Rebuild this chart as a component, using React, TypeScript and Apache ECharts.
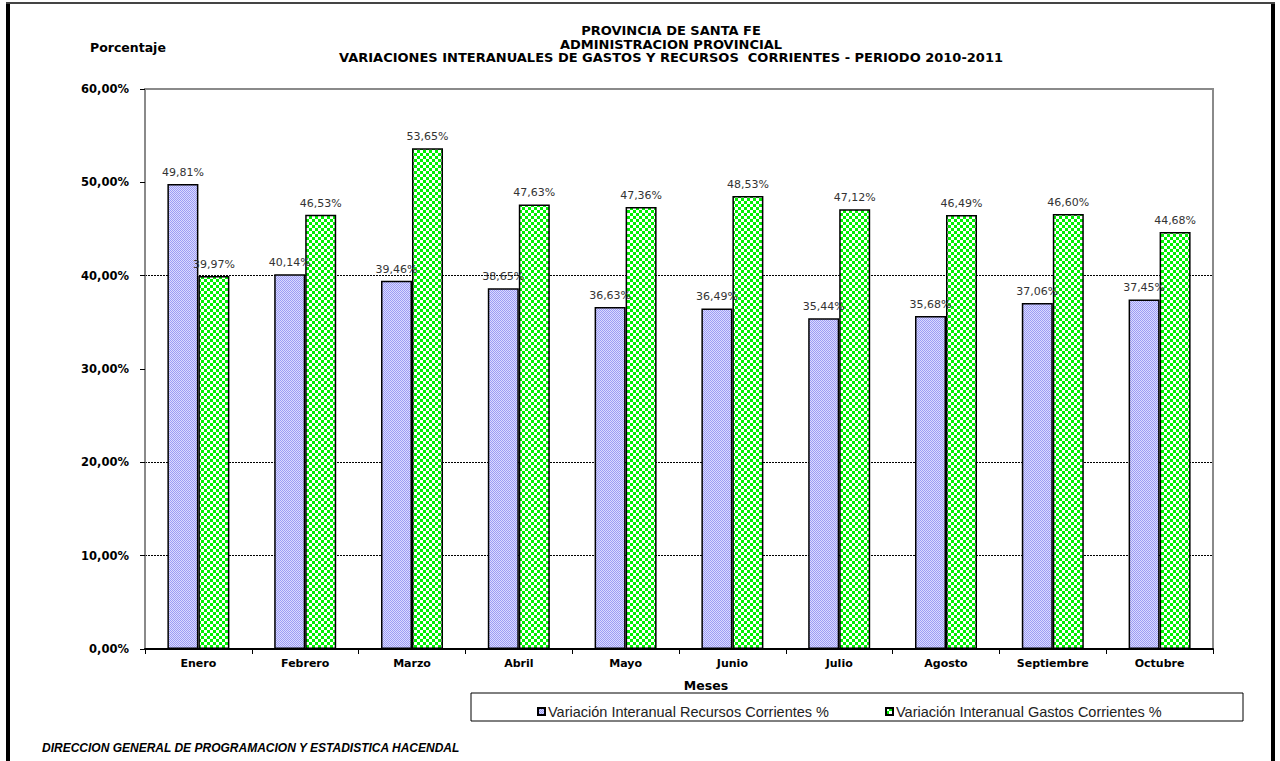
import React, { useEffect, useRef } from "react";
import * as echarts from "echarts";

const categories = ["Enero", "Febrero", "Marzo", "Abril", "Mayo", "Junio", "Julio", "Agosto", "Septiembre", "Octubre"];
const recursos = [49.81, 40.14, 39.46, 38.65, 36.63, 36.49, 35.44, 35.68, 37.06, 37.45];
const gastos = [39.97, 46.53, 53.65, 47.63, 47.36, 48.53, 47.12, 46.49, 46.6, 44.68];
const yTicks = [0, 10, 20, 30, 40, 50, 60];
const titleLines = [
  "PROVINCIA DE SANTA FE",
  "ADMINISTRACION PROVINCIAL",
  "VARIACIONES INTERANUALES DE GASTOS Y RECURSOS  CORRIENTES - PERIODO 2010-2011",
];
const seriesNames = ["Variación Interanual Recursos Corrientes %", "Variación Interanual Gastos Corrientes %"];

const FONT = "'Liberation Sans', Arial, sans-serif";
const WIDE = "'DejaVu Sans', sans-serif";
const fmt = (v: number) => v.toFixed(2).replace(".", ",") + "%";

function makePattern(size: number, bg: string, fg: string, cells: number[][]) {
  const c = document.createElement("canvas");
  c.width = size;
  c.height = size;
  const ctx = c.getContext("2d")!;
  ctx.fillStyle = bg;
  ctx.fillRect(0, 0, size, size);
  ctx.fillStyle = fg;
  cells.forEach(([x, y, w, h]) => ctx.fillRect(x, y, w, h));
  return c;
}

export default function App() {
  const ref = useRef<HTMLDivElement>(null);
  useEffect(() => {
    if (!ref.current) return;
    const chart = echarts.init(ref.current, null, { renderer: "svg" });
    const blue = makePattern(2, "#dadaff", "#9c9cf4", [[0, 0, 1, 1], [1, 1, 1, 1]]);
    const green = makePattern(6, "#00f000", "#ffffff", [[0, 0, 3, 3], [3, 3, 3, 3]]);
    const gridColors = yTicks.map((t) => (t === 10 || t === 20 || t === 40 ? "#000" : "rgba(0,0,0,0)"));
    const barLabel = {
      show: true,
      position: "top",
      distance: 6,
      fontFamily: WIDE,
      fontSize: 11,
      color: "#333",
      formatter: (p: any) => fmt(p.value),
    };
    const option: any = {
      animation: false,
      backgroundColor: "#fff",
      textStyle: { fontFamily: FONT },
      grid: {
        left: 145,
        right: 67,
        top: 89,
        bottom: 112,
        show: true,
        borderColor: "#8a8a8a",
        borderWidth: 2,
        backgroundColor: "transparent",
      },
      legend: {
        left: 532,
        top: 699,
        itemWidth: 7,
        itemHeight: 7,
        itemGap: 56,
        icon: "rect",
        textStyle: { fontFamily: FONT, fontSize: 14.5, color: "#222", padding: [0, 0, 0, -2] },
        data: seriesNames,
      },
      xAxis: {
        type: "category",
        data: categories,
        axisLine: { lineStyle: { color: "#000", width: 2 } },
        axisTick: { show: true, length: 5, lineStyle: { color: "#000", width: 1 } },
        axisLabel: { fontFamily: WIDE, fontSize: 11, fontWeight: "bold", color: "#000", margin: 9 },
      },
      yAxis: {
        type: "value",
        min: 0,
        max: 60,
        interval: 10,
        axisLine: { show: true, lineStyle: { color: "#8a8a8a", width: 1.5 } },
        axisTick: { show: true, length: 5, lineStyle: { color: "#000" } },
        axisLabel: {
          fontFamily: WIDE,
          fontSize: 11.5,
          fontWeight: "bold",
          color: "#000",
          margin: 16,
          formatter: (v: number) => fmt(v),
        },
        splitLine: { show: true, lineStyle: { color: gridColors, type: [2, 1], width: 1 } },
      },
      series: [
        {
          name: seriesNames[0],
          type: "bar",
          data: recursos,
          barWidth: 31,
          barGap: "0%",
          itemStyle: { color: { image: blue, repeat: "repeat" }, borderColor: "#000", borderWidth: 1.5 },
          label: barLabel,
        },
        {
          name: seriesNames[1],
          type: "bar",
          data: gastos,
          barWidth: 31,
          barGap: "0%",
          itemStyle: { color: { image: green, repeat: "repeat" }, borderColor: "#000", borderWidth: 1.5 },
          label: barLabel,
        },
      ],
      graphic: [
        { type: "line", shape: { x1: 8, y1: 3, x2: 8, y2: 761 }, style: { stroke: "#000", lineWidth: 4 } },
        { type: "line", shape: { x1: 1273, y1: 3, x2: 1273, y2: 761 }, style: { stroke: "#000", lineWidth: 4 } },
        { type: "line", shape: { x1: 6, y1: 3, x2: 1275, y2: 3 }, style: { stroke: "#444", lineWidth: 2 } },
        ...titleLines.map((t, i) => ({
          type: "text",
          x: 671,
          y: 30.5 + i * 13.5,
          style: {
            text: t,
            fontFamily: WIDE,
            fontSize: 13,
            lineHeight: 13,
            fontWeight: "bold",
            fill: "#000",
            textAlign: "center",
            textVerticalAlign: "middle",
          },
        })),
        {
          type: "text",
          x: 90,
          y: 47,
          style: { text: "Porcentaje", fontFamily: WIDE, fontSize: 12.5, fontWeight: "bold", fill: "#000", textVerticalAlign: "middle" },
        },
        {
          type: "text",
          x: 706,
          y: 685,
          style: { text: "Meses", fontFamily: WIDE, fontSize: 12.5, fontWeight: "bold", fill: "#000", textAlign: "center", textVerticalAlign: "middle" },
        },
        {
          type: "rect",
          shape: { x: 471, y: 693, width: 772, height: 28 },
          style: { fill: "none", stroke: "#000", lineWidth: 1 },
          z: -1,
        },
        {
          type: "text",
          x: 42,
          y: 748,
          style: {
            text: "DIRECCION GENERAL DE PROGRAMACION Y ESTADISTICA HACENDAL",
            fontFamily: FONT,
            fontSize: 12,
            fontWeight: "bold",
            fontStyle: "italic",
            fill: "#000",
            textVerticalAlign: "middle",
          },
        },
      ],
    };
    chart.setOption(option);
    return () => chart.dispose();
  }, []);
  return <div ref={ref} style={{ position: "fixed", left: 0, top: 0, width: 1280, height: 761 }} />;
}
